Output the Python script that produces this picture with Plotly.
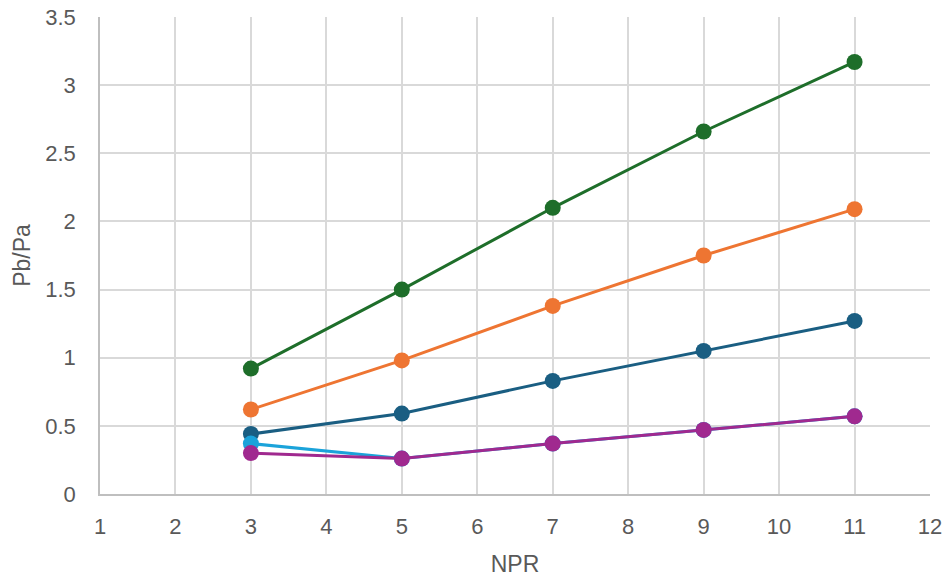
import plotly.graph_objects as go

npr = [3, 5, 7, 9, 11]
series_names = ["S1", "S2", "S3", "S4", "S5"]
green = [0.92, 1.50, 2.10, 2.66, 3.17]
orange = [0.62, 0.98, 1.38, 1.75, 2.09]
dark_blue = [0.44, 0.59, 0.83, 1.05, 1.27]
light_blue = [0.37, 0.26, 0.37, 0.47, 0.57]
purple = [0.30, 0.26, 0.37, 0.47, 0.57]

x_ticks = list(range(1, 13))
y_ticks = [0, 0.5, 1, 1.5, 2, 2.5, 3, 3.5]
y_tick_labels = ["0", "0.5", "1", "1.5", "2", "2.5", "3", "3.5"]

colors = ["#1e6e2a", "#ee7532", "#1a5e82", "#1ba3da", "#a0298f"]
data = [green, orange, dark_blue, light_blue, purple]

fig = go.Figure()
for i in [0, 1, 2, 3, 4]:
    fig.add_trace(go.Scatter(
        x=npr, y=data[i], mode="lines+markers", name=series_names[i],
        line=dict(color=colors[i], width=3),
        marker=dict(color=colors[i], size=16),
    ))

fig.add_annotation(text="(a)", xref="paper", yref="paper", x=0.4, y=1.038,
                   xanchor="center", yanchor="bottom", showarrow=False,
                   font=dict(family="Liberation Sans, Arial", size=22, color="#595959"))

fig.update_layout(
    width=948, height=580,
    margin=dict(l=100, r=18, t=17, b=86, autoexpand=False),
    plot_bgcolor="white", paper_bgcolor="white",
    showlegend=False,
    font=dict(family="Liberation Sans, Arial", color="#595959", size=22),
    xaxis=dict(range=[1, 12], tickvals=x_ticks, showgrid=True, gridcolor="#d9d9d9",
               gridwidth=1.5, showline=True, linecolor="#bfbfbf", linewidth=1.5,
               zeroline=False, ticks="outside", ticklen=12, tickcolor="rgba(0,0,0,0)",
               title=dict(text="NPR", font=dict(size=23), standoff=18),
               tickfont=dict(size=22)),
    yaxis=dict(range=[0, 3.5], tickvals=y_ticks, ticktext=y_tick_labels,
               showgrid=True, gridcolor="#d9d9d9", gridwidth=1.5,
               showline=True, linecolor="#bfbfbf", linewidth=1.5, zeroline=False,
               ticks="outside", ticklen=18, tickcolor="rgba(0,0,0,0)",
               title=dict(text="Pb/Pa", font=dict(size=23), standoff=8),
               tickfont=dict(size=22)),
)

fig.write_html("out.html")
